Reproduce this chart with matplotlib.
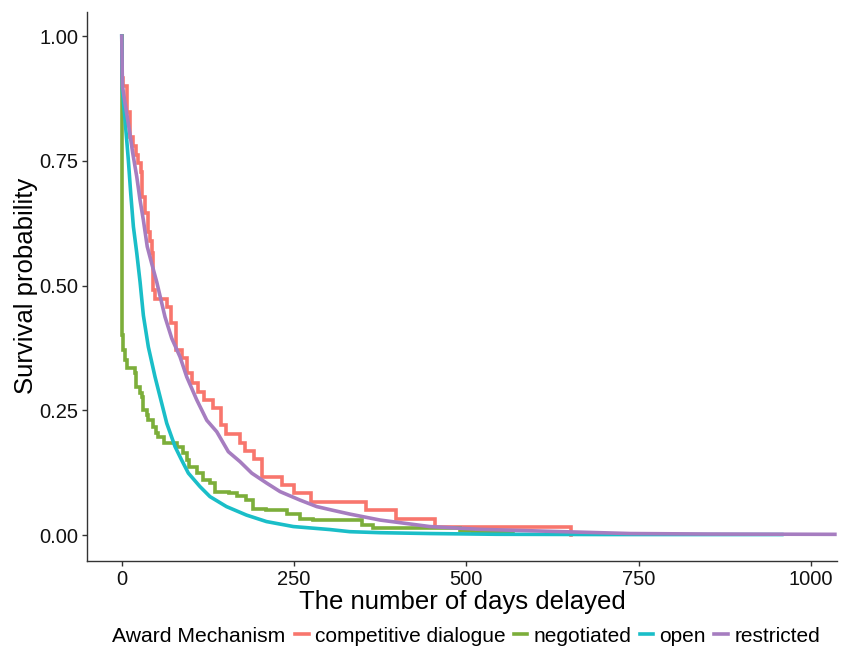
import matplotlib
matplotlib.use("Agg")
import matplotlib.pyplot as plt
from matplotlib.lines import Line2D

plt.rcParams['font.family'] = ['Liberation Sans', 'DejaVu Sans']

# ---- data ----
groups = ["competitive dialogue", "negotiated", "open", "restricted"]
colors = ["#F8766D", "#7CAE3A", "#1ABEC8", "#A67DC0"]

# competitive dialogue (step curve)
cd_time = [0, 1, 2.3, 8, 12, 17, 21, 24, 27.5, 30, 34, 38.6, 41, 43.5, 45, 46, 48,
           65, 71, 79, 87, 95, 102, 111, 119, 133, 144, 151, 171, 179, 192, 203,
           232, 250, 274, 355, 398, 455, 652]
cd_surv = [1.0, 0.915, 0.899, 0.848, 0.798, 0.78, 0.762, 0.745, 0.728, 0.678, 0.645,
           0.608, 0.59, 0.565, 0.524, 0.491, 0.474, 0.458, 0.424, 0.371, 0.354, 0.324,
           0.304, 0.287, 0.271, 0.254, 0.220, 0.202, 0.185, 0.168, 0.152, 0.117,
           0.100, 0.084, 0.067, 0.050, 0.033, 0.0167, 0.0]

# negotiated (step curve)
neg_time = [0, 1, 1.5, 4, 7, 19, 21, 26, 29, 31, 36, 38.6, 45, 50, 53, 62, 80, 89, 94,
            97, 109, 118, 128, 135, 155, 167, 181, 191, 210, 240, 259, 278, 348, 365,
            491, 510, 568]
neg_surv = [1.0, 0.40, 0.37, 0.35, 0.334, 0.324, 0.297, 0.285, 0.277, 0.25, 0.24, 0.23,
            0.217, 0.205, 0.197, 0.184, 0.177, 0.164, 0.15, 0.137, 0.124, 0.11, 0.104,
            0.087, 0.084, 0.078, 0.070, 0.053, 0.050, 0.043, 0.033, 0.030, 0.020,
            0.0134, 0.0087, 0.0067, 0.0067]

# open (many small steps, traced as a line)
open_time = [0, 0.8, 4.8, 9.6, 13, 16.9, 21.8, 26.6, 31.4, 38.6, 48.3, 58, 65.3, 77.4,
             87, 96.7, 113.6, 128, 152, 181, 210, 249, 302, 331, 375, 447, 544, 700, 958]
open_surv = [1.0, 0.892, 0.832, 0.751, 0.685, 0.618, 0.565, 0.507, 0.44, 0.377, 0.317,
             0.264, 0.224, 0.177, 0.150, 0.124, 0.097, 0.077, 0.057, 0.040, 0.027,
             0.017, 0.011, 0.0067, 0.0047, 0.003, 0.0015, 0.001, 0.001]

# restricted (many small steps, traced as a line)
res_time = [0, 1, 4.8, 11, 16, 21.8, 26.6, 31.4, 37, 43.5, 50.8, 62.8, 72.6, 84.6, 94.3,
            108.8, 123.4, 137.9, 154.7, 171.7, 188.7, 210.4, 229.8, 258.8, 283, 305,
            331, 375, 447, 520, 641, 738, 850, 1035]
res_surv = [1.0, 0.90, 0.865, 0.812, 0.765, 0.718, 0.671, 0.631, 0.578, 0.544, 0.507,
            0.437, 0.394, 0.357, 0.317, 0.271, 0.230, 0.207, 0.167, 0.147, 0.124, 0.104,
            0.087, 0.070, 0.057, 0.050, 0.042, 0.030, 0.017, 0.0114, 0.0067, 0.003,
            0.002, 0.0014]

x_ticks = [0, 250, 500, 750, 1000]
y_ticks = [0.00, 0.25, 0.50, 0.75, 1.00]
y_tick_labels = ["0.00", "0.25", "0.50", "0.75", "1.00"]

# ---- figure ----
fig = plt.figure(figsize=(8.41, 6.53), dpi=100)
ax = fig.add_axes([0.1038, 0.1413, 0.8914, 0.8407])

lw = 2.6
ax.step(cd_time, cd_surv, where='post', color=colors[0], lw=lw, solid_joinstyle='miter')
ax.step(neg_time, neg_surv, where='post', color=colors[1], lw=lw, solid_joinstyle='miter')
ax.plot(open_time, open_surv, color=colors[2], lw=lw)
ax.plot(res_time, res_surv, color=colors[3], lw=lw)

ax.set_xlim(-50, 1038)
ax.set_ylim(-0.0515, 1.0487)
ax.set_xticks(x_ticks)
ax.set_xticklabels([str(t) for t in x_ticks])
ax.set_yticks(y_ticks)
ax.set_yticklabels(y_tick_labels)

for s in ['top', 'right']:
    ax.spines[s].set_visible(False)
for s in ['left', 'bottom']:
    ax.spines[s].set_color('#333333')
    ax.spines[s].set_linewidth(1.0)
ax.tick_params(axis='both', direction='out', length=3.5, width=1.0, color='#333333',
               labelsize=14.5, labelcolor='#111111', pad=3)

ax.set_xlabel("The number of days delayed", fontsize=18.5, labelpad=1)
ax.set_ylabel("Survival probability", fontsize=18.5, labelpad=1)

# legend
fig.text(112 / 841, 1 - 636 / 653, "Award Mechanism", fontsize=15.2, va='center', ha='left')
handles = [Line2D([0], [0], color=c, lw=lw) for c in colors]
fig.legend(handles, groups, loc='center left', bbox_to_anchor=(295 / 841, 1 - 636 / 653),
           ncol=4, frameon=False, fontsize=15, handlelength=0.65, handletextpad=0.3,
           columnspacing=0.4, borderpad=0, borderaxespad=0)

fig.savefig("out.png", dpi=100)
